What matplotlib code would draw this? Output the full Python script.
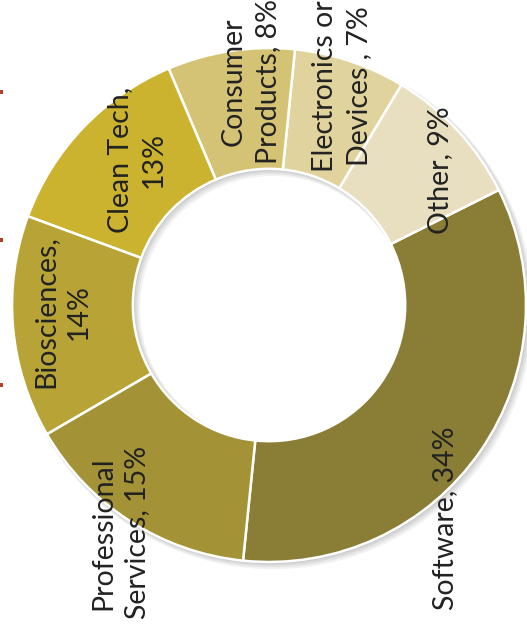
import matplotlib
matplotlib.use('Agg')
import matplotlib.pyplot as plt
from matplotlib.patches import Wedge

plt.rcParams['font.family'] = ['Lato', 'DejaVu Sans']

sectors = ['Software', 'Other', 'Electronics or Devices', 'Consumer Products',
           'Clean Tech', 'Biosciences', 'Professional Services']
shares = [34, 9, 7, 8, 13, 14, 15]
colors = ['#8a7d35', '#e8dec0', '#e0d39e', '#d5c375',
          '#cbb22f', '#b8a436', '#a39336']

# label text per sector (rotated 90 deg like the printed page)
labels = ['Software, 34%', 'Other, 9%', 'Electronics or\nDevices , 7%',
          'Consumer\nProducts, 8%', 'Clean Tech,\n13%', 'Biosciences,\n14%',
          'Professional\nServices, 15%']
label_xy = [(0.685, -0.829), (0.665, 0.525), (0.284, 0.852), (-0.070, 0.868),
            (-0.514, 0.564), (-0.805, -0.027), (-0.580, -0.887)]

W, H = 527, 628
fig = plt.figure(figsize=(W / 100, H / 100), dpi=100)
ax = fig.add_axes([0, 0, 1, 1])
ax.axis('off')

ring = 0.47

# soft drop shadow under the ring
for i, a in enumerate([0.05, 0.05, 0.06, 0.07]):
    off = 0.004 * (4 - i)
    ax.add_patch(Wedge((off, -off), 1.0 + 0.003 * (4 - i), 0, 360,
                       width=ring + 0.006 * (4 - i), facecolor='#000000',
                       edgecolor='none', alpha=a, zorder=1))

wedges, _ = ax.pie(shares, colors=colors, startangle=264.2, counterclock=True,
                   radius=1.0, wedgeprops=dict(width=ring, edgecolor='white',
                                               linewidth=1.8))
for w in wedges:
    w.set_zorder(2)
ax.set_xlim(-1.047, 1.004)
ax.set_ylim(-1.257, 1.187)
ax.set_aspect('auto')

for txt, (x, y) in zip(labels, label_xy):
    ax.text(x, y, txt, rotation=90, ha='center', va='center',
            multialignment='center', fontsize=20.5, color='#222222',
            linespacing=1.38, zorder=5)

# small red marks along the left edge
for yy in [92, 240, 385]:
    fig.patches.append(plt.Rectangle((0, 1 - yy / H - 0.003), 3 / W, 0.006,
                                     transform=fig.transFigure,
                                     facecolor='#b5402a', edgecolor='none'))

fig.savefig('out.png', dpi=100)
